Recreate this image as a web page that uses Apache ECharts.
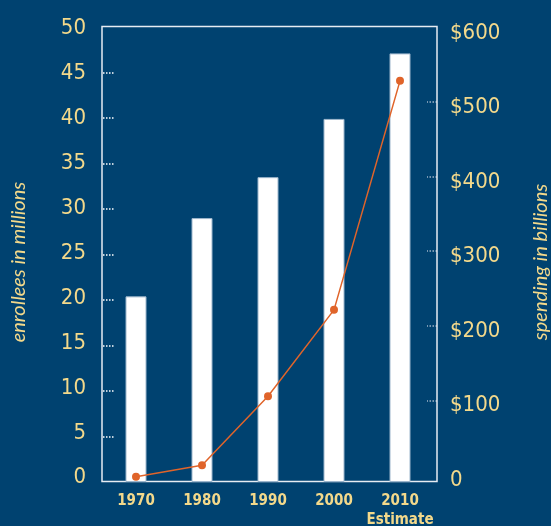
<!DOCTYPE html>
<html>
<head>
<meta charset="utf-8">
<script src="https://cdn.jsdelivr.net/npm/echarts@6/dist/echarts.min.js"></script>
<style>
html,body{margin:0;padding:0;background:#004270;}
#c{width:551px;height:526px;}
</style>
</head>
<body>
<div id="c"></div>
<script>
var years = ['1970', '1980', '1990', '2000', '2010'];
var xLabels = ['1970', '1980', '1990', '2000', '2010\nEstimate'];
var enrollees = [20.4, 29.0, 33.5, 39.9, 47.1];
var spending = [7, 22, 113, 227, 529];
var leftLabels = [0, 5, 10, 15, 20, 25, 30, 35, 40, 45, 50];
var leftTickMarks = [5, 10, 15, 20, 25, 30, 35, 40, 45];
var rightLabels = [0, 100, 200, 300, 400, 500, 600];
var rightTicks = [100, 200, 300, 400, 500];
var leftTitle = 'enrollees in millions';
var rightTitle = 'spending in billions';

var cream = '#F3D98B';
var numFont = '"DejaVu Sans Condensed", "Liberation Sans", sans-serif';

function hiddenParts(extra) {
  var o = {
    type: 'value',
    splitLine: { show: false },
    axisLine: { show: false },
    axisTick: { show: false },
    axisLabel: { show: false }
  };
  for (var k in extra) o[k] = extra[k];
  return o;
}

var chart = echarts.init(document.getElementById('c'));
chart.setOption({
  backgroundColor: '#004270',
  animation: false,
  grid: { left: 103, top: 27, width: 330, height: 455, outerBoundsMode: 'none', containLabel: false },
  graphic: [{
    type: 'rect',
    shape: { x: 102, y: 26.5, width: 335, height: 455 },
    style: { fill: 'none', stroke: '#e6ecf2', lineWidth: 1.5 },
    z: 1
  }, {
    type: 'text',
    x: 19, y: 262,
    rotation: Math.PI / 2,
    style: {
      text: leftTitle, fill: cream,
      fontFamily: 'Lato, sans-serif', fontStyle: 'italic', fontSize: 20,
      align: 'center', verticalAlign: 'middle'
    }
  }, {
    type: 'text',
    x: 541, y: 262,
    rotation: Math.PI / 2,
    style: {
      text: rightTitle, fill: cream,
      fontFamily: 'Lato, sans-serif', fontStyle: 'italic', fontSize: 20,
      align: 'center', verticalAlign: 'middle'
    }
  }],
  xAxis: {
    type: 'category',
    data: years,
    boundaryGap: true,
    axisLine: { show: false },
    axisTick: { show: false },
    axisLabel: {
      interval: 0,
      formatter: function (v, i) { return xLabels[i]; },
      color: cream,
      fontFamily: numFont,
      fontWeight: 'bold',
      fontSize: 15,
      lineHeight: 19,
      margin: 10,
      verticalAlign: 'top'
    }
  },
  yAxis: [
    // 0: enrollee scale with tick marks (bars)
    hiddenParts({
      position: 'left', min: 0, max: 50,
      axisTick: { show: true, inside: true, length: 11, customValues: leftTickMarks, lineStyle: { color: '#ffffff', type: [1.5, 1.5], width: 1.5 } }
    }),
    // 1: enrollee tick labels
    hiddenParts({
      position: 'left', min: -0.475, max: 50.19,
      axisLabel: { show: true, color: cream, fontFamily: numFont, fontSize: 22, margin: 17, customValues: leftLabels }
    }),
    // 2: spending tick marks
    hiddenParts({
      position: 'right', offset: 4, min: -9.4, max: 600,
      axisTick: { show: true, inside: true, length: 10, customValues: rightTicks, lineStyle: { color: '#9fb4c8', type: [1.5, 1.5], width: 1.5 } }
    }),
    // 3: spending tick labels
    hiddenParts({
      position: 'right', offset: 4, min: -2.3, max: 608.2,
      axisLabel: {
        show: true, color: cream, fontFamily: numFont, fontSize: 22, margin: 13,
        customValues: rightLabels,
        formatter: function (v) { return v === 0 ? '0' : '$' + v; }
      }
    }),
    // 4: spending scale for the line
    hiddenParts({ show: false, min: 0, max: 600 })
  ],
  series: [{
    type: 'bar',
    data: enrollees,
    yAxisIndex: 0,
    barWidth: 21,
    itemStyle: { color: '#ffffff', borderColor: '#9db6cc', borderWidth: 1 },
    z: 2
  }, {
    type: 'line',
    data: spending,
    yAxisIndex: 4,
    symbol: 'circle',
    symbolSize: 8,
    lineStyle: { color: '#E0642A', width: 1.5 },
    itemStyle: { color: '#E0642A' },
    z: 3
  }]
});
</script>
</body>
</html>
